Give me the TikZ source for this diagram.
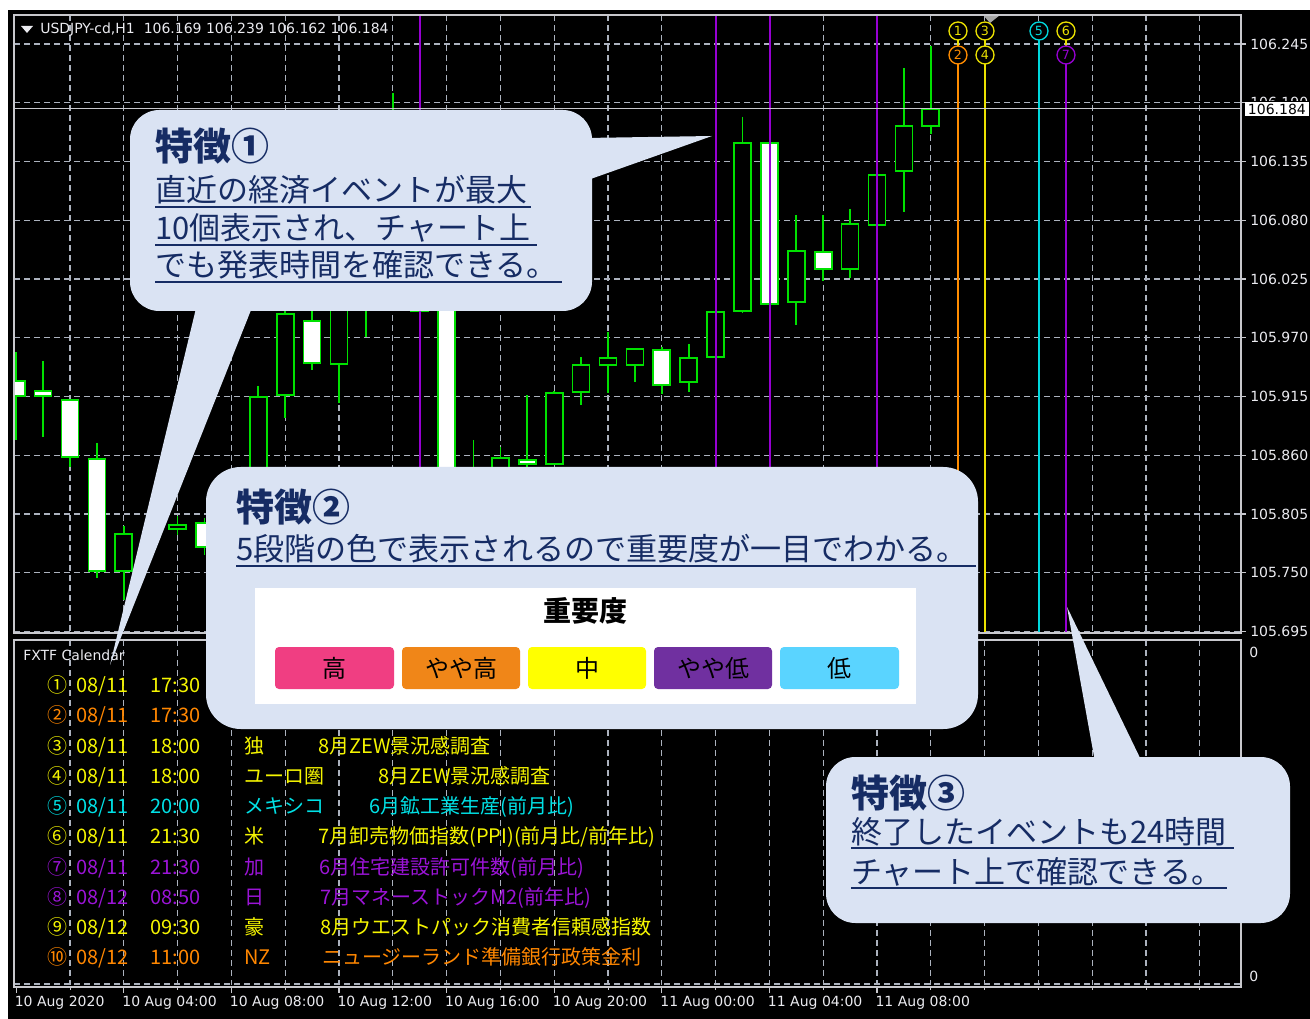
\documentclass[tikz,border=0pt]{standalone}
\usepackage{fontspec}
\setmainfont{DejaVu Sans}
\newfontfamily\jp{Noto Sans CJK JP}
\definecolor{gridc}{RGB}{172,178,190}
\definecolor{cgreen}{RGB}{0,225,0}
\definecolor{axc}{RGB}{235,235,240}
\definecolor{frm}{RGB}{200,200,205}
\definecolor{evpurple}{RGB}{150,0,210}
\definecolor{evorange}{RGB}{255,140,0}
\definecolor{evyellow}{RGB}{235,225,0}
\definecolor{evcyan}{RGB}{0,215,220}
\definecolor{txyellow}{RGB}{245,245,0}
\definecolor{txorange}{RGB}{255,135,0}
\definecolor{txcyan}{RGB}{0,225,230}
\definecolor{txpurple}{RGB}{155,20,215}
\definecolor{navy}{RGB}{22,44,100}
\definecolor{callc}{RGB}{218,227,243}
\definecolor{lgpink}{RGB}{240,62,130}
\definecolor{lgorange}{RGB}{240,134,24}
\definecolor{lgyellow}{RGB}{255,255,0}
\definecolor{lgpurple}{RGB}{112,48,160}
\definecolor{lgblue}{RGB}{90,212,255}
\newcommand\fsz[1]{\fontsize{#1}{#1}\selectfont}
\newcommand\calrow[9]{%
  \node[calt,text=#2] (n#9) at (47,#1) {#3};
  \node[calt,text=#2] (d#9) at (76,#1) {#4};
  \node[calt,text=#2] (t#9) at (150,#1) {#5};
  \node[calt,text=#2] (c#9) at (244,#1) {#6};
  \node[calt,text=#2] (e#9) at (#8,#1) {#7};
}
\begin{document}
\begin{tikzpicture}[x=0.75pt,y=-0.75pt,
  grid/.style={draw=gridc,line width=0.9pt,dash pattern=on 4.5pt off 3pt},
  wick/.style={draw=cgreen,line width=1.3pt},
  body/.style={draw=cgreen,line width=1.3pt},
  axl/.style={text=axc,font=\fsz{10.5},inner sep=0pt,anchor=west},
  calt/.style={font=\jp\fsz{15},inner sep=0pt,anchor=base west},
  ttl/.style={font=\jp\bfseries\fsz{28.5},text=navy,inner sep=0pt,anchor=base west},
  btxt/.style={font=\jp\fsz{23.25},text=navy,inner sep=0pt,anchor=base west},
  uline/.style={draw=navy,line width=0.9pt},
  lgbox/.style={rounded corners=3pt},
  lgt/.style={font=\jp\fsz{18},inner sep=0pt},
  evline/.style={line width=1.5pt},
  mk/.style={circle,draw,line width=1pt,fill=black,minimum size=13.5pt,inner sep=0pt,font=\fsz{9.5}}
]
\useasboundingbox (0,0) rectangle (1310,1019);
\fill[white] (0,0) rectangle (1310,1019);
\fill[black] (8,10) rectangle (1310,1019);

% grid upper
\foreach \k in {0,...,21} \draw[grid] ({70+53.8*\k},15) -- ({70+53.8*\k},633);
\foreach \k in {0,...,10} \draw[grid] (14,{44+58.75*\k}) -- (1241,{44+58.75*\k});
% grid lower
\foreach \k in {0,...,21} \draw[grid] ({70+53.8*\k},640) -- ({70+53.8*\k},985);
\draw[grid] (14,984) -- (1241,984);

% candles
\begin{scope}
\clip (14,15) rectangle (1241,633);
\foreach \x/\bt/\bb/\wt/\wb/\f in {
16.2/381/396/352/440/white, 43.1/391/396/361/437/white, 70/400/457/400/467/white,
96.9/459/571/443/578/white, 123.8/534/571/526/600/black, 177.6/525/529/516/535/black,
204.5/523/547/518/555/white, 258.3/397/480/386/490/black, 285.2/314/395/290/418/black,
312.1/321/363/300/370/white, 339/290/364/280/403/black, 365.9/230/300/200/337/black,
392.8/150/250/93/260/black, 419.7/250/311/240/320/black, 446.6/200/500/190/510/white,
473.5/475/520/440/530/black, 500.4/458/500/447/510/black, 527.3/460/464/395/470/white,
554.2/393/464/391/464/black, 581.1/365/392/357/405/black, 608/358/365/332/393/black,
634.9/349/365/349/382/black, 661.8/350/385/347/394/white, 688.7/358/382/344/392/black,
715.6/312/357/312/357/black, 742.5/143/311/117/313/black, 769.4/143/304/143/304/white,
796.3/251/302/215/325/black, 823.2/252/269/215/281/white, 850.1/224/269/209/278/black,
877/175/225/175/225/black, 903.9/126/171/68/212/black, 930.8/109/126/46/134/black}
{
  \draw[wick] (\x,\wt) -- (\x,\wb);
  \filldraw[body,fill=\f] (\x-8.5,\bt) rectangle (\x+8.5,\bb);
}
\end{scope}

% vertical event lines
\foreach \x in {419.5,716,770,877} \draw[evline,draw=evpurple] (\x,15) -- (\x,633);
\draw[evline,evyellow] (958,31) -- (958,633);
\draw[evline,evorange] (958,55) -- (958,633);
\draw[evline,evyellow] (985,31) -- (985,633);
\draw[evline,evcyan] (1039,31) -- (1039,633);
\draw[evline,evyellow] (1066,31) -- (1066,633);
\draw[evline,evpurple] (1066,55) -- (1066,633);
\node[mk,draw=evyellow,text=evyellow] (m1) at (958,31) {1};
\node[mk,draw=evorange,text=evorange] (m2) at (958,55) {2};
\node[mk,draw=evyellow,text=evyellow] (m3) at (985,31) {3};
\node[mk,draw=evyellow,text=evyellow] (m4) at (985,55) {4};
\node[mk,draw=evcyan,text=evcyan] (m5) at (1039,31) {5};
\node[mk,draw=evyellow,text=evyellow] (m6) at (1066,31) {6};
\node[mk,draw=evpurple,text=evpurple] (m7) at (1066,55) {7};
\fill[gray!70] (983,15) -- (1000,15) -- (990,23) -- cycle;

% current price line
\draw[frm,line width=0.9pt] (14,108.5) -- (1241,108.5);

% frames
\draw[frm,line width=1.1pt] (14,15) rectangle (1241,633);
\draw[frm,line width=1.1pt] (14,640) rectangle (1241,987);

% right axis
\foreach \k/\lab in {0/106.245,2/106.135,3/106.080,4/106.025,5/105.970,6/105.915,7/105.860,8/105.805,9/105.750,10/105.695}
{
  \draw[frm,line width=0.9pt] (1241,{44+58.75*\k}) -- (1246,{44+58.75*\k});
  \node[axl] at (1250,{44+58.75*\k}) {\lab};
}
\draw[frm,line width=0.9pt] (1241,102.75) -- (1246,102.75);
\begin{scope}
\clip (1245,90) rectangle (1310,101);
\node[axl] (p190) at (1250,102.75) {106.190};
\end{scope}
\node[fill=white,text=black,font=\fsz{10.5},inner xsep=2pt,inner ysep=1.5pt,anchor=west] (cur) at (1245,109) {106.184};
\node[axl] (z1) at (1249,652) {0};
\node[axl] (z2) at (1249,976) {0};

% bottom axis
\foreach \k/\lab in {0/10 Aug 2020,1/10 Aug 04:00,2/10 Aug 08:00,3/10 Aug 12:00,4/10 Aug 16:00,5/10 Aug 20:00,6/11 Aug 00:00,7/11 Aug 04:00,8/11 Aug 08:00}
{
  \draw[frm,line width=0.9pt] ({16.2+107.6*\k},987) -- ({16.2+107.6*\k},993);
  \node[axl] at ({14.5+107.6*\k},1003) {\lab};
}
\foreach \k in {0,...,22} \draw[frm,line width=0.75pt] ({16.2+53.8*\k},987) -- ({16.2+53.8*\k},990);

% header
\fill[axc] (21,26) -- (33,26) -- (27,33) -- cycle;
\node[axl] (hdr) at (40,29.5) {USDJPY-cd,H1\ \ 106.169 106.239 106.162 106.184};

% calendar
\node[axl] (cal) at (23,655) {FXTF Calendar};
\calrow{692}{txyellow}{①}{08/11}{17:30}{}{}{318}{1}
\calrow{722}{txorange}{②}{08/11}{17:30}{}{}{318}{2}
\calrow{753}{txyellow}{③}{08/11}{18:00}{独}{8月ZEW景況感調査}{318}{3}
\calrow{783}{txyellow}{④}{08/11}{18:00}{ユーロ圏}{8月ZEW景況感調査}{378}{4}
\calrow{813}{txcyan}{⑤}{08/11}{20:00}{メキシコ}{6月鉱工業生産(前月比)}{369}{5}
\calrow{843}{txyellow}{⑥}{08/11}{21:30}{米}{7月卸売物価指数(PPI)(前月比/前年比)}{318}{6}
\calrow{874}{txpurple}{⑦}{08/11}{21:30}{加}{6月住宅建設許可件数(前月比)}{319}{7}
\calrow{904}{txpurple}{⑧}{08/12}{08:50}{日}{7月マネーストックM2(前年比)}{320}{8}
\calrow{934}{txyellow}{⑨}{08/12}{09:30}{豪}{8月ウエストパック消費者信頼感指数}{320}{9}
\calrow{964}{txorange}{⑩}{08/12}{11:00}{NZ}{ニュージーランド準備銀行政策金利}{322}{10}

% callout 1
\fill[callc,rounded corners=22pt] (130,110) rectangle (592,311);
\fill[callc] (585,138) -- (712,136) -- (585,181) -- cycle;
\fill[callc] (198,300) -- (255,300) -- (110,665) -- cycle;
\node[ttl] (f1) at (155,161) {特徴①};
\node[btxt] (f1a) at (155,202) {直近の経済イベントが最大};
\node[btxt] (f1b) at (155,240) {10個表示され、チャート上};
\node[btxt] (f1c) at (155,277) {でも発表時間を確認できる。};
\draw[uline] (155,207) -- (531,207);
\draw[uline] (155,245) -- (537,245);
\draw[uline] (155,282) -- (562,282);

% callout 2
\fill[callc,rounded corners=26pt] (206,467) rectangle (978,729);
\node[ttl] (f2) at (236,522) {特徴②};
\node[btxt,font=\jp\fsz{23.3}] (f2a) at (236,561) {5段階の色で表示されるので重要度が一目でわかる。};
\draw[uline] (236,566) -- (976,566);
\fill[white] (255,588) rectangle (916,704);
\node[font=\jp\bfseries\fsz{21},inner sep=0pt] (imp) at (585,611) {重要度};
\fill[lgbox,lgpink] (275,647) rectangle (394,689);
\fill[lgbox,lgorange] (402,647) rectangle (520,689);
\fill[lgbox,lgyellow] (528,647) rectangle (646,689);
\fill[lgbox,lgpurple] (654,647) rectangle (772,689);
\fill[lgbox,lgblue] (780,647) rectangle (899,689);
\node[lgt] (l1) at (334.5,668) {高};
\node[lgt] (l2) at (461,668) {やや高};
\node[lgt] (l3) at (587,668) {中};
\node[lgt] (l4) at (713,668) {やや低};
\node[lgt] (l5) at (839.5,668) {低};

% callout 3
\fill[callc,rounded corners=22pt] (826,757) rectangle (1290,923);
\fill[callc] (1095,762) -- (1142,762) -- (1067,607) -- cycle;
\node[ttl] (f3) at (851,807) {特徴③};
\node[btxt] (f3a) at (851,843) {終了したイベントも24時間};
\node[btxt] (f3b) at (851,883) {チャート上で確認できる。};
\draw[uline] (851,848) -- (1234,848);
\draw[uline] (851,888) -- (1227,888);
\end{tikzpicture}
\end{document}
